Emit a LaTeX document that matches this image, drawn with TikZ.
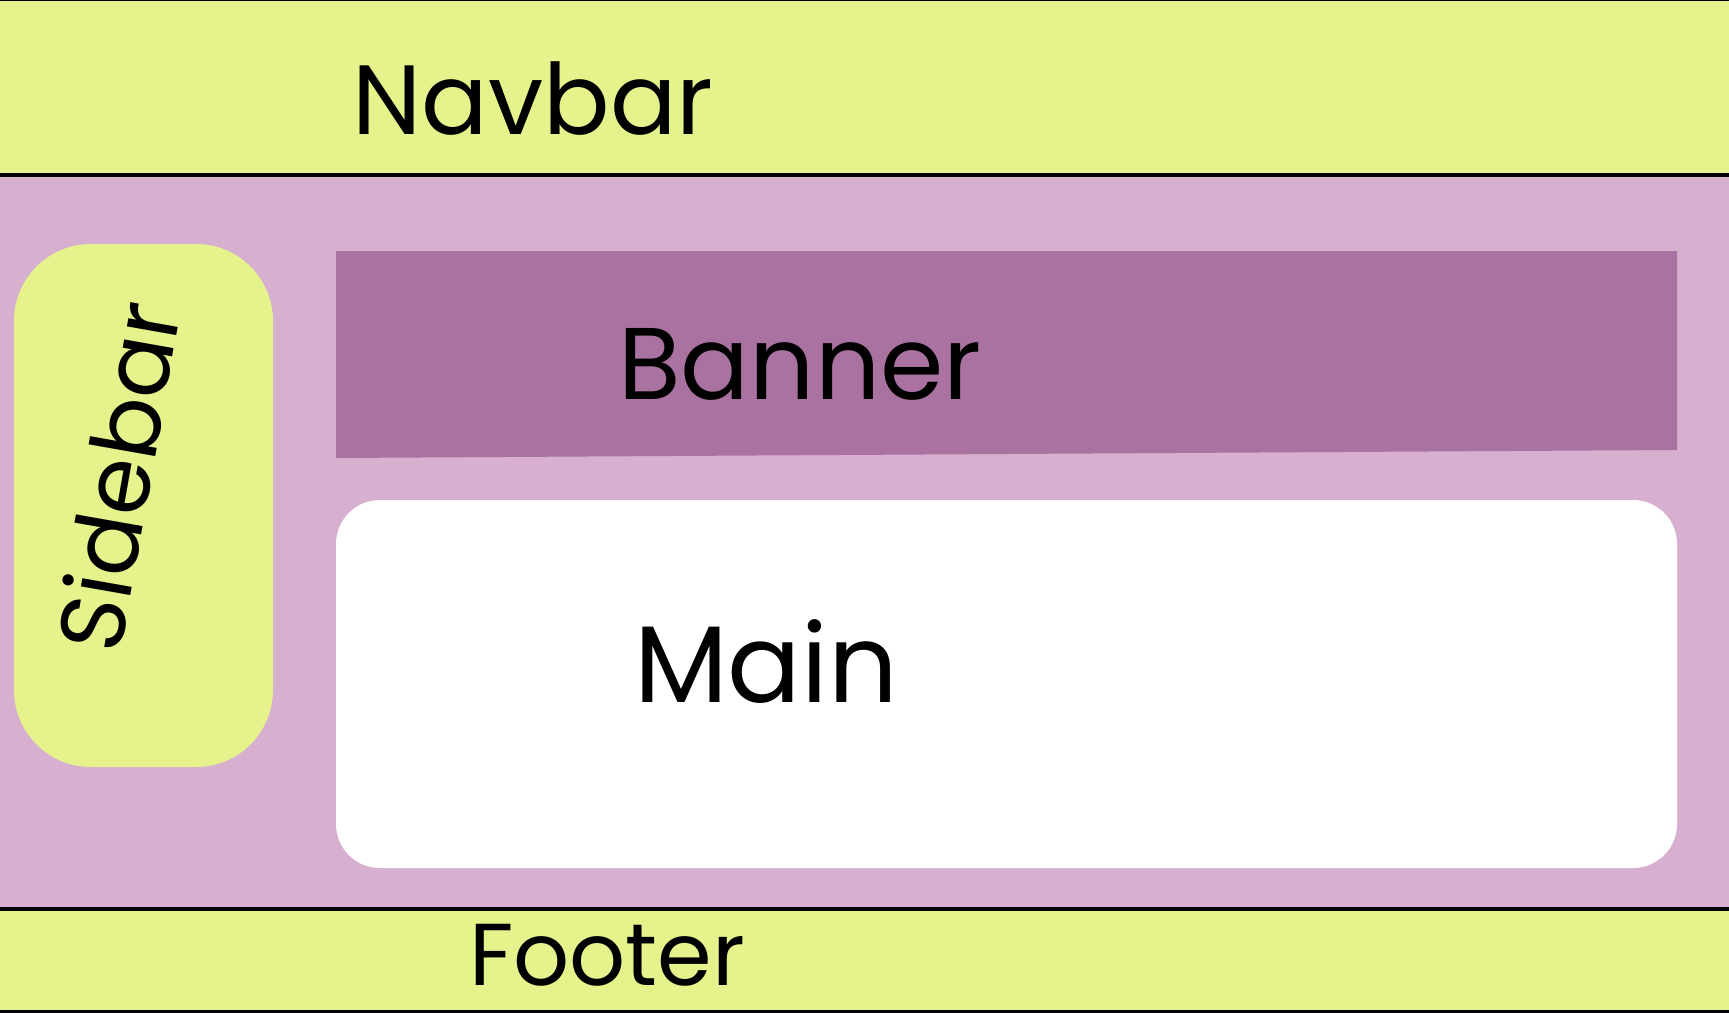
\documentclass[tikz,border=0pt]{standalone}
\usepackage{fontspec}
\setmainfont{Poppins}
\usetikzlibrary{positioning}

\definecolor{barYellow}{HTML}{E6F38C}
\definecolor{pagePink}{HTML}{D7AFCF}
\definecolor{bannerPurple}{HTML}{AA72A1}

\tikzset{
  region/.style={inner sep=0pt, outer sep=0pt},
  hand/.style={font=\fontsize{29}{29}\selectfont, inner sep=0pt, text=black}
}

\begin{document}
\begin{tikzpicture}
  \useasboundingbox (0,0) rectangle (17.29,10.12);

  % page bands
  \node[region, fill=barYellow, minimum width=17.29cm, minimum height=1.75cm,
        anchor=north west] (navbar) at (0,10.12) {};
  \node[region, fill=pagePink, minimum width=17.29cm, minimum height=7.34cm,
        below=0cm of navbar] (page) {};
  \node[region, fill=barYellow, minimum width=17.29cm, minimum height=1.03cm,
        below=0cm of page] (footer) {};
  \draw[line width=0.6pt] (navbar.north west) -- (navbar.north east);
  \draw[line width=1.2pt] (navbar.south west) -- (navbar.south east);
  \draw[line width=1.0pt] (footer.north west) -- (footer.north east);
  \draw[line width=1.0pt] (footer.south west) -- (footer.south east);

  % sidebar and main
  \node[region, fill=barYellow, rounded corners=0.77cm, minimum width=2.59cm,
        minimum height=5.23cm] (sidebar) at (1.435,5.065) {};
  \node[region, fill=white, rounded corners=0.44cm, minimum width=13.41cm,
        minimum height=3.68cm] (main) at (10.065,3.28) {};

  % banner, bottom edge a little skewed
  \fill[bannerPurple] (3.36,7.61) -- (16.77,7.61) -- (16.77,5.62) -- (3.36,5.54) -- cycle;

  % labels
  \node[hand, font=\fontsize{28}{28}\selectfont] (navbarText) at (5.33,9.13) {Navbar};
  \node[hand] (bannerText) at (8.00,6.48) {Banner};
  \node[hand, font=\fontsize{31}{31}\selectfont] (mainText) at (7.66,3.50) {Main};
  \node[hand, font=\fontsize{25}{25}\selectfont] (footerText) at (6.07,0.57) {Footer};
  \node[hand, rotate=80, font=\fontsize{26}{26}\selectfont] (sidebarText) at (1.17,5.36) {Sidebar};
\end{tikzpicture}
\end{document}
